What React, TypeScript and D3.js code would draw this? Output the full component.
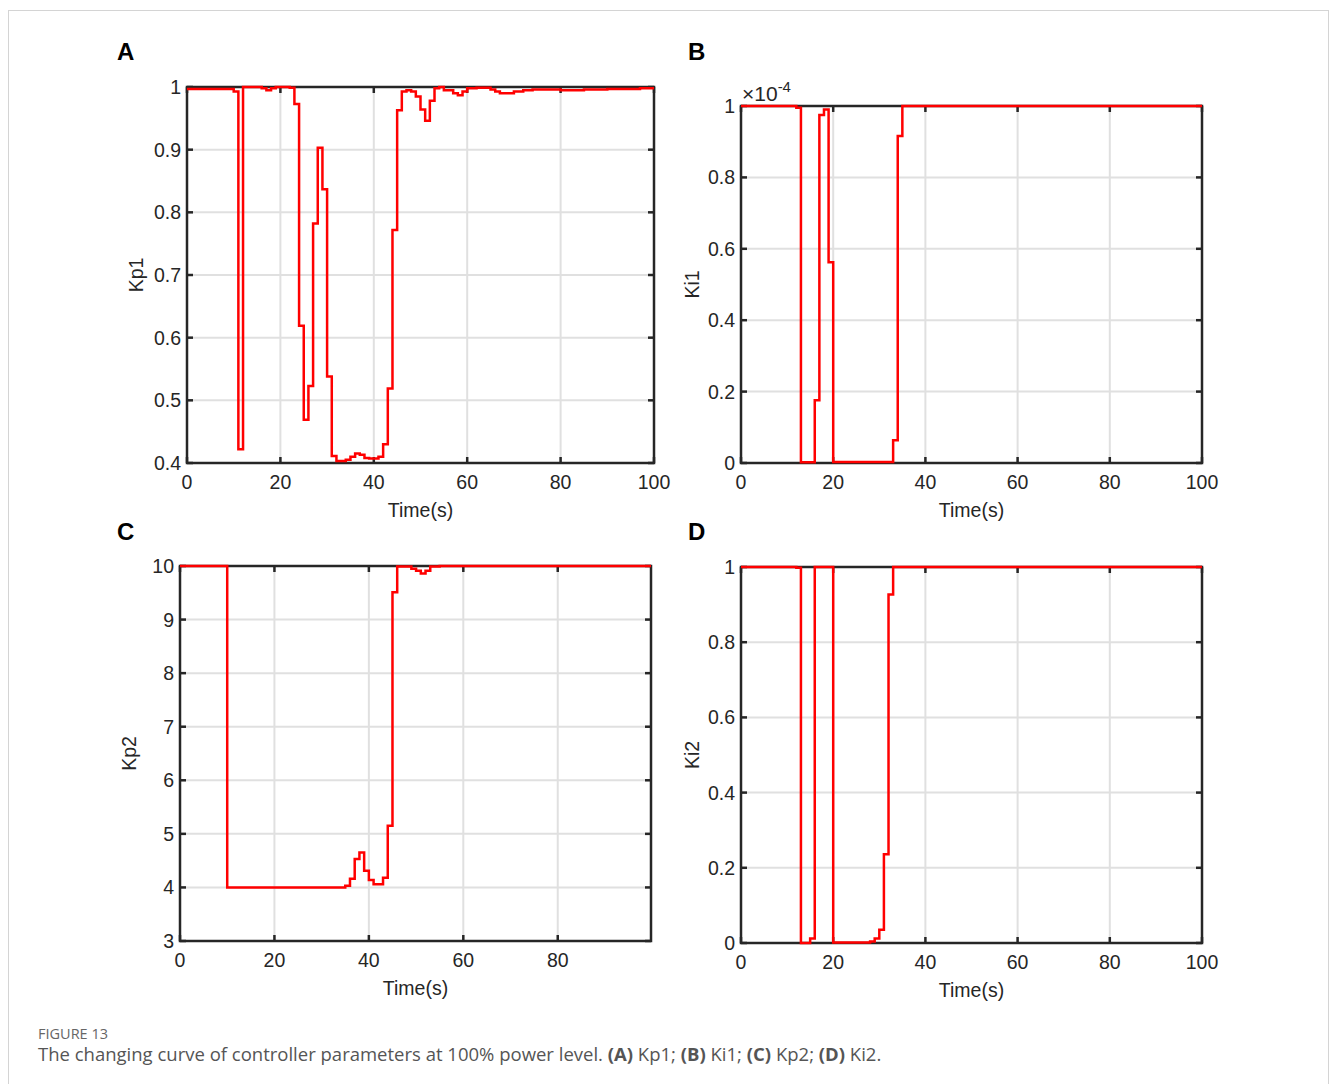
import * as d3 from 'd3'

// step start times (s) and held values
const kp1Times = [0, 10, 11, 12, 16, 17, 18, 19, 22, 23, 24, 25, 26, 27, 28, 29, 30, 31, 32, 34, 35, 36, 37, 38, 39, 41, 42, 43, 44, 45, 46, 47, 48, 49, 50, 51, 52, 53, 54, 55, 57, 58, 59, 60, 62, 65, 66, 67, 70, 72, 74, 80, 85, 90, 97]
const kp1Values = [0.997, 0.993, 0.422, 1.0, 0.998, 0.995, 0.998, 1.0, 0.999, 0.973, 0.619, 0.469, 0.523, 0.782, 0.903, 0.837, 0.538, 0.411, 0.403, 0.405, 0.41, 0.415, 0.413, 0.408, 0.407, 0.41, 0.43, 0.519, 0.772, 0.963, 0.993, 0.995, 0.993, 0.985, 0.964, 0.946, 0.978, 0.998, 1.0, 0.995, 0.99, 0.987, 0.993, 0.998, 0.999, 0.996, 0.993, 0.99, 0.993, 0.995, 0.996, 0.995, 0.996, 0.997, 0.998]

// Ki1 in units of 1e-4
const ki1Times = [0, 12, 13, 16, 17, 18, 19, 20, 33, 34, 35]
const ki1Values = [1.0, 0.995, 0.002, 0.176, 0.975, 0.99, 0.562, 0.003, 0.064, 0.916, 1.0]

const kp2Times = [0, 10, 35, 36, 37, 38, 39, 40, 41, 43, 44, 45, 46, 49, 50, 51, 52, 53, 55]
const kp2Values = [10, 4.0, 4.03, 4.16, 4.53, 4.65, 4.31, 4.14, 4.06, 4.18, 5.15, 9.51, 9.99, 9.95, 9.91, 9.86, 9.91, 9.99, 10]

const ki2Times = [0, 12, 13, 15, 16, 20, 28, 29, 30, 31, 32, 33]
const ki2Values = [1.0, 0.998, 0.0, 0.012, 1.0, 0.001, 0.004, 0.012, 0.035, 0.236, 0.927, 1.0]

const xTicks = [0, 20, 40, 60, 80, 100]
const kp1Ticks = [0.4, 0.5, 0.6, 0.7, 0.8, 0.9, 1]
const unitTicks = [0, 0.2, 0.4, 0.6, 0.8, 1]
const kp2Ticks = [3, 4, 5, 6, 7, 8, 9, 10]

const ink = '#262626'
const font = "'Liberation Sans', Arial, sans-serif"
const fs = 19.5

type PanelProps = {
  letter: string
  letterPos: [number, number]
  ylabel: string
  box: [number, number, number, number] // left, top, right, bottom
  xMax: number
  yDomain: [number, number]
  yTicks: number[]
  times: number[]
  values: number[]
  exponent?: string
}

let Panel = ({ letter, letterPos, ylabel, box, xMax, yDomain, yTicks, times, values, exponent }: PanelProps) => {
  let [left, top, right, bottom] = box
  let x = d3.scaleLinear().domain([0, xMax]).range([left, right])
  let y = d3.scaleLinear().domain(yDomain).range([bottom, top])

  let pts: [number, number][] = times.map((t, i) => [t, values[i]])
  pts.push([xMax, values[values.length - 1]])

  let line = d3.line<[number, number]>()
    .x(d => x(d[0]))
    .y(d => y(d[1]))
    .curve(d3.curveStepAfter)

  let xs = xTicks.filter(t => t <= xMax)
  let tick = 6

  return (
    <g>
      <text x={letterPos[0]} y={letterPos[1]} fontSize={24} fontWeight="bold" fill="#000" fontFamily={font}>{letter}</text>
      {/* grid */}
      {xs.filter(t => t > 0 && t < xMax).map(t => (
        <line key={'gx' + t} x1={x(t)} x2={x(t)} y1={top} y2={bottom} stroke="#e0e0e0" strokeWidth={2} />
      ))}
      {yTicks.filter(t => t > yDomain[0] && t < yDomain[1]).map(t => (
        <line key={'gy' + t} x1={left} x2={right} y1={y(t)} y2={y(t)} stroke="#e0e0e0" strokeWidth={2} />
      ))}
      {/* ticks inside, all four sides */}
      {xs.map(t => (
        <g key={'tx' + t}>
          <line x1={x(t)} x2={x(t)} y1={bottom} y2={bottom - tick} stroke={ink} strokeWidth={2.5} />
          <line x1={x(t)} x2={x(t)} y1={top} y2={top + tick} stroke={ink} strokeWidth={2.5} />
          <text x={x(t)} y={bottom + 26} textAnchor="middle" fontSize={fs} fill={ink} fontFamily={font}>{t}</text>
        </g>
      ))}
      {yTicks.map(t => (
        <g key={'ty' + t}>
          <line x1={left} x2={left + tick} y1={y(t)} y2={y(t)} stroke={ink} strokeWidth={2.5} />
          <line x1={right} x2={right - tick} y1={y(t)} y2={y(t)} stroke={ink} strokeWidth={2.5} />
          <text x={left - 6} y={y(t) + 7} textAnchor="end" fontSize={fs} fill={ink} fontFamily={font}>{d3.format('~g')(t)}</text>
        </g>
      ))}
      <rect x={left} y={top} width={right - left} height={bottom - top} fill="none" stroke={ink} strokeWidth={2.5} />
      <path d={line(pts) ?? ''} fill="none" stroke="#ff0000" strokeWidth={2.5} />
      {exponent && (
        <text x={left + 1} y={top - 5} fontSize={21} fill={ink} fontFamily={font}>
          ×10<tspan dy={-9} fontSize={15}>{exponent}</tspan>
        </text>
      )}
      <text x={(left + right) / 2} y={bottom + 54} textAnchor="middle" fontSize={fs} fill={ink} fontFamily={font}>Time(s)</text>
      <text transform={`translate(${left - (ylabel.startsWith('Kp') ? 44 : 42)},${(top + bottom) / 2}) rotate(-90)`} textAnchor="middle" fontSize={fs} fill={ink} fontFamily={font}>{ylabel}</text>
    </g>
  )
}

let App = () => {
  return (
    <svg width={1330} height={1084} style={{ position: 'absolute', left: 0, top: 0, background: '#fff' }}>
      <rect x={8.5} y={10.5} width={1320} height={1200} fill="#fff" stroke="#d4d4d4" strokeWidth={1} />
      <Panel letter="A" letterPos={[117, 60]} ylabel="Kp1" box={[187, 87, 654, 463]} xMax={100} yDomain={[0.4, 1]} yTicks={kp1Ticks} times={kp1Times} values={kp1Values} />
      <Panel letter="B" letterPos={[688, 60]} ylabel="Ki1" box={[741, 106, 1202, 463]} xMax={100} yDomain={[0, 1]} yTicks={unitTicks} times={ki1Times} values={ki1Values} exponent="-4" />
      <Panel letter="C" letterPos={[117, 540]} ylabel="Kp2" box={[180, 566, 651, 941]} xMax={99.75} yDomain={[3, 10]} yTicks={kp2Ticks} times={kp2Times} values={kp2Values} />
      <Panel letter="D" letterPos={[688, 540]} ylabel="Ki2" box={[741, 567, 1202, 943]} xMax={100} yDomain={[0, 1]} yTicks={unitTicks} times={ki2Times} values={ki2Values} />
      <text x={38} y={1039} fontSize={14.5} fill="#666" fontFamily="'Open Sans', sans-serif">FIGURE 13</text>
      <text x={38} y={1061} fontSize={18.5} fill="#555" fontFamily="'Open Sans', sans-serif">
        The changing curve of controller parameters at 100% power level. <tspan fontWeight="bold">(A)</tspan> Kp1; <tspan fontWeight="bold">(B)</tspan> Ki1; <tspan fontWeight="bold">(C)</tspan> Kp2; <tspan fontWeight="bold">(D)</tspan> Ki2.
      </text>
    </svg>
  )
}

export default App
